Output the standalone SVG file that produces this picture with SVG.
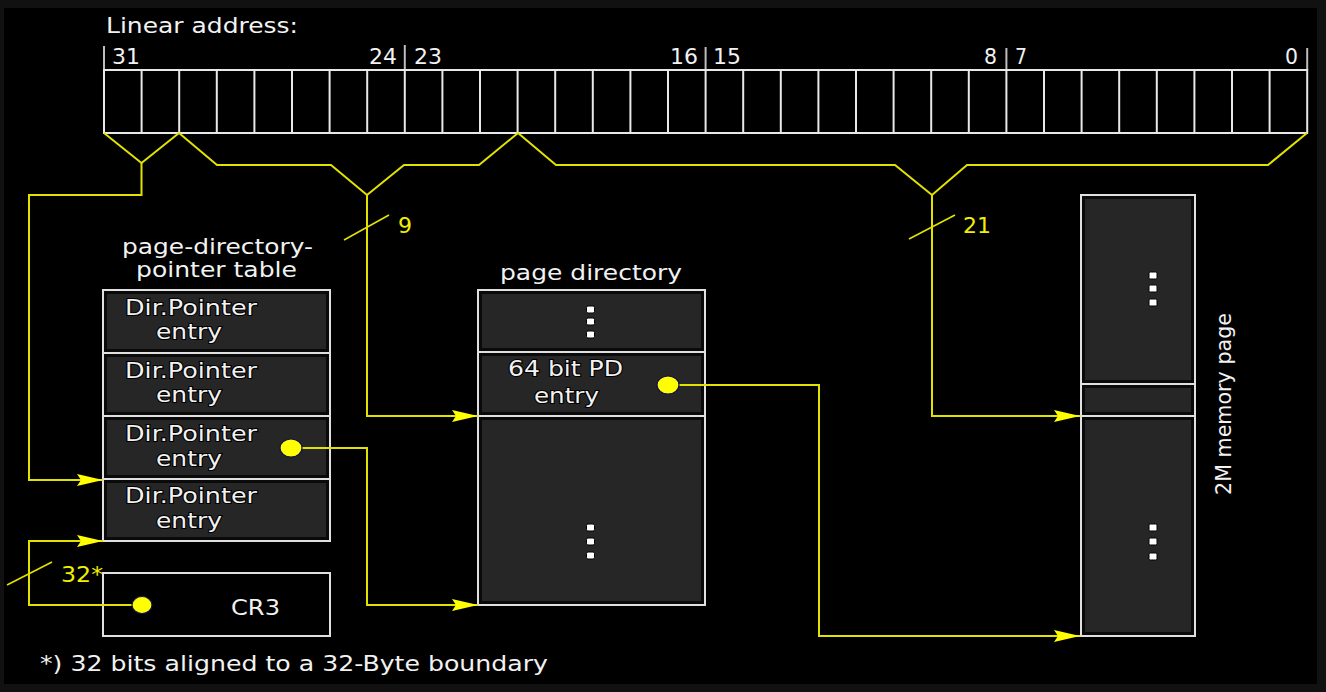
<svg xmlns="http://www.w3.org/2000/svg" width="1326" height="692" viewBox="0 0 1326 692">
<style>
  .t{font-family:"DejaVu Sans","Liberation Sans",sans-serif;font-size:21px;fill:#f2f2f2;stroke:#000;stroke-width:2px;paint-order:stroke;}
  .y{font-family:"DejaVu Sans","Liberation Sans",sans-serif;font-size:21px;fill:#f0f000;}
  .cell{fill:none;stroke:#e8e8e8;stroke-width:2;}
  .tick{stroke:#bdbdbd;stroke-width:2;}
  .outer{fill:#0a0a0a;stroke:#e0e0e0;stroke-width:2;}
  .inner{fill:#262626;}
  .box{fill:none;stroke:#e0e0e0;stroke-width:2;}
  .wire{fill:none;stroke:#e2e200;stroke-width:2;}
  .slash{fill:none;stroke:#e2e200;stroke-width:1.6;}
  .dot{fill:#ffff00;stroke:#101050;stroke-width:1.2;}
  .vd{fill:#ffffff;stroke:#000;stroke-width:1;}
</style>
<defs>
  <marker id="arr" viewBox="0 0 26 12" refX="26" refY="6" markerWidth="26" markerHeight="12" markerUnits="userSpaceOnUse" orient="auto">
    <path d="M0,0 L26,6 L0,12 L4,6 z" fill="#ffff00"/>
  </marker>
</defs>
<rect x="0" y="0" width="1326" height="692" fill="#111"/>
<rect x="4" y="8" width="1313" height="676" fill="#000"/>

<g id="bitfield">
  <text class="t" x="106" y="33" textLength="192" lengthAdjust="spacingAndGlyphs">Linear address:</text>
  <g class="t">
    <text x="112" y="64" textLength="28" lengthAdjust="spacingAndGlyphs">31</text>
    <text x="369" y="64" textLength="28" lengthAdjust="spacingAndGlyphs">24</text>
    <text x="414" y="64" textLength="28" lengthAdjust="spacingAndGlyphs">23</text>
    <text x="670" y="64" textLength="28" lengthAdjust="spacingAndGlyphs">16</text>
    <text x="713" y="64" textLength="28" lengthAdjust="spacingAndGlyphs">15</text>
    <text x="984" y="64" textLength="13" lengthAdjust="spacingAndGlyphs">8</text>
    <text x="1015" y="64" textLength="12" lengthAdjust="spacingAndGlyphs">7</text>
    <text x="1285" y="64" textLength="13" lengthAdjust="spacingAndGlyphs">0</text>
  </g>
  <g class="tick">
    <line x1="104" y1="46" x2="104" y2="70"/>
    <line x1="404.8" y1="45" x2="404.8" y2="70"/>
    <line x1="705.6" y1="47" x2="705.6" y2="70"/>
    <line x1="1006.4" y1="48" x2="1006.4" y2="70"/>
    <line x1="1307.2" y1="48" x2="1307.2" y2="70"/>
  </g>
  <rect class="cell" x="104" y="70" width="1203.2" height="63"/>
  <path class="cell" d="M141.6,70V133 M179.2,70V133 M216.8,70V133 M254.4,70V133 M292,70V133 M329.6,70V133 M367.2,70V133 M404.8,70V133 M442.4,70V133 M480,70V133 M517.6,70V133 M555.2,70V133 M592.8,70V133 M630.4,70V133 M668,70V133 M705.6,70V133 M743.2,70V133 M780.8,70V133 M818.4,70V133 M856,70V133 M893.6,70V133 M931.2,70V133 M968.8,70V133 M1006.4,70V133 M1044,70V133 M1081.6,70V133 M1119.2,70V133 M1156.8,70V133 M1194.4,70V133 M1232,70V133 M1269.6,70V133"/>
</g>

<g id="pdpt">
  <text class="t" x="122" y="254" textLength="191" lengthAdjust="spacingAndGlyphs">page-directory-</text>
  <text class="t" x="136" y="277" textLength="161" lengthAdjust="spacingAndGlyphs">pointer table</text>
  <rect class="outer" x="103" y="290" width="227" height="63"/>
  <rect class="inner" x="107" y="294" width="219" height="55"/>
  <rect class="outer" x="103" y="353" width="227" height="63"/>
  <rect class="inner" x="107" y="357" width="219" height="55"/>
  <rect class="outer" x="103" y="416" width="227" height="63"/>
  <rect class="inner" x="107" y="420" width="219" height="55"/>
  <rect class="outer" x="103" y="479" width="227" height="62"/>
  <rect class="inner" x="107" y="483" width="219" height="54"/>
  <g class="t">
    <text x="125" y="315" textLength="132" lengthAdjust="spacingAndGlyphs">Dir.Pointer</text>
    <text x="156" y="339" textLength="66" lengthAdjust="spacingAndGlyphs">entry</text>
    <text x="125" y="378" textLength="132" lengthAdjust="spacingAndGlyphs">Dir.Pointer</text>
    <text x="156" y="402" textLength="66" lengthAdjust="spacingAndGlyphs">entry</text>
    <text x="125" y="441" textLength="132" lengthAdjust="spacingAndGlyphs">Dir.Pointer</text>
    <text x="156" y="466" textLength="66" lengthAdjust="spacingAndGlyphs">entry</text>
    <text x="125" y="503" textLength="132" lengthAdjust="spacingAndGlyphs">Dir.Pointer</text>
    <text x="156" y="528" textLength="66" lengthAdjust="spacingAndGlyphs">entry</text>
  </g>
</g>

<g id="pagedir">
  <text class="t" x="500" y="280" textLength="182" lengthAdjust="spacingAndGlyphs">page directory</text>
  <rect class="outer" x="478" y="290" width="227" height="315"/>
  <rect class="inner" x="482" y="294" width="219" height="54"/>
  <rect class="inner" x="482" y="420" width="219" height="181"/>
  <rect class="outer" x="478" y="352" width="227" height="64"/>
  <rect class="inner" x="482" y="356" width="219" height="56"/>
  <g class="vd">
    <rect x="586.5" y="306" width="8" height="7" rx="1.5"/>
    <rect x="586.5" y="318" width="8" height="7" rx="1.5"/>
    <rect x="586.5" y="331" width="8" height="7" rx="1.5"/>
    <rect x="586.5" y="524" width="8" height="7" rx="1.5"/>
    <rect x="586.5" y="538" width="8" height="7" rx="1.5"/>
    <rect x="586.5" y="552" width="8" height="7" rx="1.5"/>
  </g>
  <text class="t" x="508" y="376" textLength="115" lengthAdjust="spacingAndGlyphs">64 bit PD</text>
  <text class="t" x="534" y="403" textLength="65" lengthAdjust="spacingAndGlyphs">entry</text>
</g>

<g id="mempage">
  <rect class="outer" x="1081" y="195" width="114" height="441"/>
  <rect class="inner" x="1085" y="199" width="106" height="181"/>
  <rect class="inner" x="1085" y="420" width="106" height="212"/>
  <rect class="outer" x="1081" y="384" width="114" height="32"/>
  <rect class="inner" x="1085" y="388" width="106" height="24"/>
  <g class="vd">
    <rect x="1149" y="272" width="8" height="7" rx="1.5"/>
    <rect x="1149" y="285" width="8" height="7" rx="1.5"/>
    <rect x="1149" y="299" width="8" height="7" rx="1.5"/>
    <rect x="1149" y="524" width="8" height="7" rx="1.5"/>
    <rect x="1149" y="538" width="8" height="7" rx="1.5"/>
    <rect x="1149" y="553" width="8" height="7" rx="1.5"/>
  </g>
  <text class="t" transform="translate(1231,495) rotate(-90)" x="0" y="0" textLength="182" lengthAdjust="spacingAndGlyphs">2M memory page</text>
</g>

<g id="cr3">
  <rect class="box" x="103" y="573" width="227" height="63"/>
  <text class="t" x="231" y="615" textLength="49" lengthAdjust="spacingAndGlyphs">CR3</text>
</g>

<g id="connectors">
  <path class="wire" d="M104,133 L141.5,163 L179,133"/>
  <path class="wire" d="M141.5,163 V195 H29 V480 H103" marker-end="url(#arr)"/>
  <path class="wire" d="M179,133 L217,165 H331 L367,195 L404,165 H479 L518,133"/>
  <path class="wire" d="M367,195 V416 H478" marker-end="url(#arr)"/>
  <path class="wire" d="M518,133 L556,165 H895 L932,195 L967,165 H1268 L1307,133"/>
  <path class="wire" d="M932,195 V416 H1080" marker-end="url(#arr)"/>
  <path class="wire" d="M291,448 H367 V605 H478" marker-end="url(#arr)"/>
  <path class="wire" d="M668,385 H819 V636 H1080" marker-end="url(#arr)"/>
  <path class="wire" d="M142,605 H29 V541 H103" marker-end="url(#arr)"/>
  <line class="slash" x1="344" y1="240" x2="389" y2="215"/>
  <line class="slash" x1="909" y1="239" x2="955" y2="215"/>
  <line class="slash" x1="7" y1="585" x2="52" y2="562"/>
  <ellipse class="dot" cx="291" cy="448" rx="11" ry="9"/>
  <ellipse class="dot" cx="668" cy="385" rx="11" ry="9"/>
  <ellipse class="dot" cx="142" cy="605" rx="10" ry="8.5"/>
  <text class="y" x="398" y="233" textLength="14" lengthAdjust="spacingAndGlyphs">9</text>
  <text class="y" x="963" y="233" textLength="28" lengthAdjust="spacingAndGlyphs">21</text>
  <text class="y" x="61" y="582" textLength="42" lengthAdjust="spacingAndGlyphs">32*</text>
</g>

<text class="t" x="40" y="671" textLength="508" lengthAdjust="spacingAndGlyphs">*) 32 bits aligned to a 32-Byte boundary</text>
</svg>
